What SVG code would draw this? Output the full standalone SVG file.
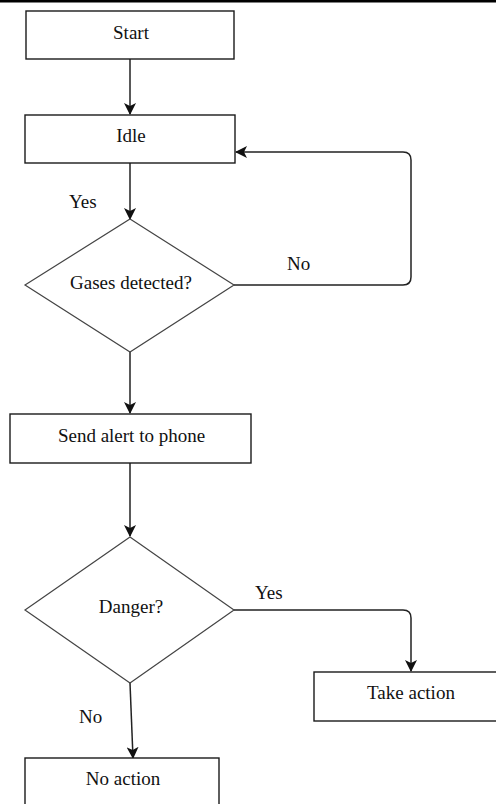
<svg xmlns="http://www.w3.org/2000/svg" width="496" height="804" viewBox="0 0 496 804">
<style>
.box{fill:#fff;stroke:#1a1a1a;stroke-width:1.4}
.dia{fill:#fff;stroke:#444;stroke-width:1.2}
.lbl{font-family:"Liberation Serif","Times New Roman",serif;font-size:19px;fill:#111}
.mid{text-anchor:middle}
.con{fill:none;stroke:#222;stroke-width:1.5}
</style>
<defs>
<marker id="ah" viewBox="0 0 12 12" refX="11" refY="6" markerWidth="12" markerHeight="12" markerUnits="userSpaceOnUse" orient="auto">
<path d="M0,0 L12,6 L0,12 L3,6 z" fill="#111"/>
</marker>
</defs>
<rect x="0" y="0" width="496" height="2.5" fill="#000"/>
<g id="connectors">
<line class="con" x1="130" y1="59" x2="130" y2="114" marker-end="url(#ah)"/>
<line class="con" x1="130" y1="163" x2="130" y2="219" marker-end="url(#ah)"/>
<path class="con" d="M234,285 H403 Q411,285 411,277 V160 Q411,152 403,152 H236" marker-end="url(#ah)"/>
<line class="con" x1="130" y1="352" x2="130" y2="413" marker-end="url(#ah)"/>
<line class="con" x1="130" y1="463" x2="130" y2="536" marker-end="url(#ah)"/>
<path class="con" d="M234,610 H403 Q411,610 411,618 V671" marker-end="url(#ah)"/>
<line class="con" x1="130" y1="683" x2="133" y2="758" marker-end="url(#ah)"/>
<text class="lbl" x="69" y="208">Yes</text>
<text class="lbl" x="287" y="270">No</text>
<text class="lbl" x="255" y="599">Yes</text>
<text class="lbl" x="79" y="723">No</text>
</g>
<g id="start">
<rect class="box" x="26" y="11" width="208" height="48"/>
<text class="lbl mid" x="131" y="38.5">Start</text>
</g>
<g id="idle">
<rect class="box" x="25" y="115" width="210" height="48"/>
<text class="lbl mid" x="131" y="142">Idle</text>
</g>
<g id="gases">
<polygon class="dia" points="130,219 234,285 130,352 25,285"/>
<text class="lbl mid" x="131" y="289">Gases detected?</text>
</g>
<g id="alert">
<rect class="box" x="10" y="414" width="241" height="49"/>
<text class="lbl mid" x="131.5" y="442">Send alert to phone</text>
</g>
<g id="danger">
<polygon class="dia" points="130,537 234,610 130,683 25,610"/>
<text class="lbl mid" x="131" y="613">Danger?</text>
</g>
<g id="take">
<rect class="box" x="314" y="672" width="186" height="49"/>
<text class="lbl mid" x="411" y="699">Take action</text>
</g>
<g id="noaction">
<rect class="box" x="25" y="758" width="194" height="60"/>
<text class="lbl mid" x="123" y="785">No action</text>
</g>
</svg>
